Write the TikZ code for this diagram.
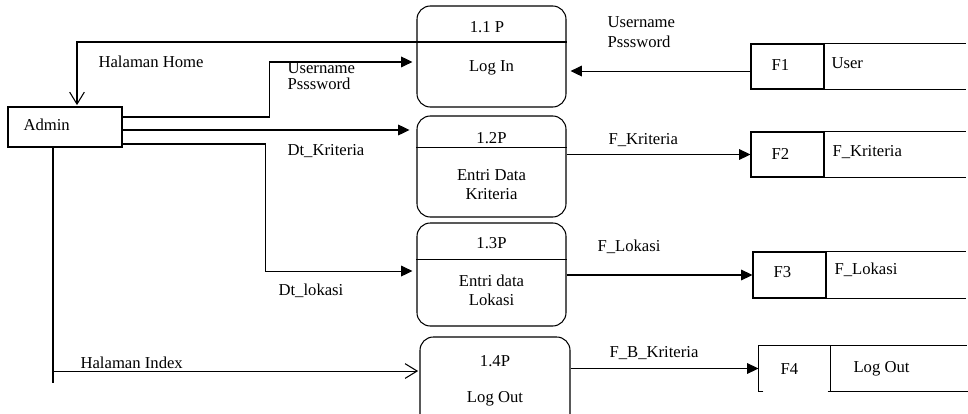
\documentclass[tikz,border=0pt]{standalone}
\usepackage{fontspec}
\setmainfont{Liberation Serif}
\usetikzlibrary{arrows.meta}

\begin{document}
\begin{tikzpicture}[x=0.75pt,y=-0.75pt,thick,font=\fontsize{12.5}{14}\selectfont,
    proc node/.style={draw,rounded corners=10pt,minimum width=111.75pt,inner sep=0pt},
    store node/.style={draw,minimum width=54.75pt,minimum height=33.75pt,inner sep=0pt},
    txt node/.style={inner sep=0pt,anchor=west,align=left},
    proc text/.style={inner sep=0pt,align=center,font=\fontsize{12.5}{14.25}\selectfont},
    flow/.style={-{Triangle[length=8.5pt,width=8pt]},shorten >=3pt},
    open flow/.style={-{Straight Barb[length=9pt,width=11pt]},shorten >=1pt}]
   \useasboundingbox (0,0) rectangle (968,414);
   \clip (0,0) rectangle (968,414);

   % entitas
   \node[draw,minimum width=85.5pt,minimum height=30pt,inner sep=0pt] (admin) at (65,127) {};
   \node[txt node] (admin txt) at (23,125) {Admin};

   % proses
   \node[proc node,minimum height=75.75pt] (p11) at (491.5,56.5) {};
   \node[proc node,minimum height=75.75pt] (p12) at (491.5,166.5) {};
   \node[proc node,minimum height=77.25pt] (p13) at (491.5,274.5) {};
   \node[proc node,minimum width=112.5pt,minimum height=77.25pt] (p14) at (495,388.5) {};
   \draw ([yshift=14.6pt]p12.west) -- ([yshift=14.6pt]p12.east);
   \draw ([yshift=11.6pt]p13.west) -- ([yshift=11.6pt]p13.east);
   \node[proc text] (p11 no) at (487,27) {1.1 P};
   \node[proc text] (p11 nm) at (491.5,68) {Log In};
   \node[proc text] (p12 no) at (491.5,138) {1.2P};
   \node[proc text] (p12 nm) at (491.5,185) {Entri Data\\Kriteria};
   \node[proc text] (p13 no) at (491.5,243) {1.3P};
   \node[proc text] (p13 nm) at (491.5,290) {Entri data\\Lokasi};
   \node[proc text] (p14 no) at (495,361) {1.4P};
   \node[proc text] (p14 nm) at (495,399) {Log Out};

   % data store
   \node[store node] (f1) at (787.5,66.5) {};
   \node[store node] (f2) at (787.5,154.5) {};
   \node[store node,minimum height=34.5pt] (f3) at (789.5,275) {};
   \node[store node,draw=none,minimum width=53.25pt] (f4) at (794.5,368.5) {};
   \draw (f1.north east) -- ++(141,0) (f1.south east) -- ++(141,0);
   \draw (f2.north east) -- ++(141,0) (f2.south east) -- ++(141,0);
   \draw (f3.north east) -- ++(139,0) (f3.south east) -- ++(139,0);
   \draw (f4.north west) -- ++(209,0);
   \draw (f4.north east) -- (f4.south east);
   \draw ([xshift=3.75pt]f4.south west) -- (f4.south west) -- (f4.north west);
   \draw ([xshift=-2.25pt]f4.south east) -- ++(141,0);
   \node[txt node] (f1 id) at (771,65) {F1};
   \node[txt node] (f1 nm) at (831,63) {User};
   \node[txt node] (f2 id) at (771,154) {F2};
   \node[txt node] (f2 nm) at (832,152) {F\_Kriteria};
   \node[txt node] (f3 id) at (773,272) {F3};
   \node[txt node] (f3 nm) at (834,270) {F\_Lokasi};
   \node[txt node] (f4 id) at (780,369) {F4};
   \node[txt node] (f4 nm) at (853,369) {Log Out};

   % aliran data
   \draw[open flow] ([yshift=10.9pt]p11.east) -- ([yshift=10.9pt]p11.west) -| ([xshift=9pt]admin.north);
   \draw[flow] ([yshift=7.5pt]admin.east) -- ++(147,0) |- ([yshift=-4.1pt]p11.west);
   \draw[flow] ([yshift=-2.25pt]admin.east) -- ++(291,0);
   \draw[flow] ([yshift=-12.75pt]admin.east) -- ++(143,0) |- ([yshift=2.6pt]p13.west);
   \coordinate (adm s) at ([xshift=-9pt]admin.south);
   \coordinate (p14 in) at ([yshift=13.1pt]p14.west);
   \draw (adm s) -- ++(0,235);
   \draw[open flow] (adm s |- p14 in) -- (p14 in);
   \draw[flow] ([yshift=-3.4pt]f1.west) -- ([yshift=-3.4pt]f1.west -| p11.east);
   \draw[flow,shorten >=0pt] (p12.east |- f2.west) -- (f2.west);
   \draw[flow,shorten >=0pt] (p13.east |- f3.west) -- (f3.west);
   \draw[flow,shorten >=0pt] (p14.east |- f4.west) -- (f4.west);

   % label
   \node[txt node] (lbl home) at (98,62) {Halaman Home};
   \node[txt node,font=\fontsize{12.5}{12}\selectfont] (lbl user) at (287,76) {Username\\Psssword};
   \node[txt node] (lbl dtk) at (287,151) {Dt\_Kriteria};
   \node[txt node] (lbl dtl) at (278,291) {Dt\_lokasi};
   \node[txt node] (lbl index) at (80,363) {Halaman Index};
   \node[txt node,font=\fontsize{12.5}{15}\selectfont] (lbl login) at (607,32) {Username\\Psssword};
   \node[txt node] (lbl fk) at (608,140) {F\_Kriteria};
   \node[txt node] (lbl fl) at (597,247) {F\_Lokasi};
   \node[txt node] (lbl fbk) at (609,353) {F\_B\_Kriteria};
\end{tikzpicture}
\end{document}
